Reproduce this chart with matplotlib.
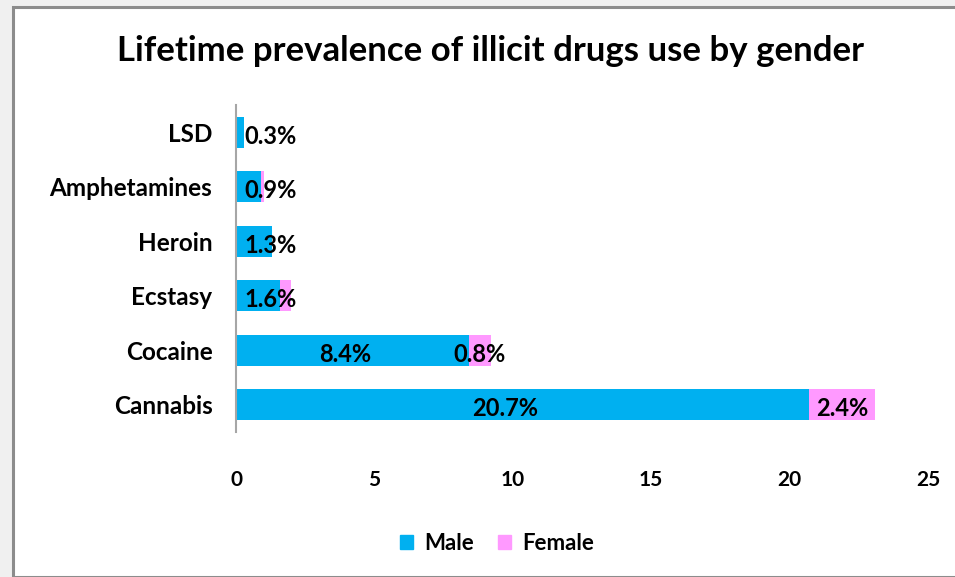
import matplotlib.pyplot as plt
from matplotlib.patches import Rectangle, Patch

drugs = ['LSD', 'Amphetamines', 'Heroin', 'Ecstasy', 'Cocaine', 'Cannabis']
male = [0.3, 0.9, 1.3, 1.6, 8.4, 20.7]
female = [0.0, 0.1, 0.0, 0.4, 0.8, 2.4]
male_labels = ['0.3%', '0.9%', '1.3%', '1.6%', '8.4%', '20.7%']
female_labels = ['', '', '', '', '0.8%', '2.4%']
xticks = [0, 5, 10, 15, 20, 25]

blue = '#00B0F0'
pink = '#FF99FF'
font = 'Lato'

fig = plt.figure(figsize=(9.55, 5.77), dpi=100)
fig.patch.set_facecolor('#F0F0F0')
fig.patches.append(Rectangle((12.5 / 955, 0), 1, 1 - 6.5 / 577, transform=fig.transFigure,
                             facecolor='white', edgecolor='#8C8C8C', linewidth=2.2, zorder=-10))

ax = fig.add_axes([236 / 955, 1 - 432 / 577, 692 / 955, 327 / 577])
ax.set_facecolor('none')

y = range(len(drugs))
ax.barh(y, male, height=0.57, color=blue, label='Male')
ax.barh(y, female, left=male, height=0.57, color=pink, label='Female')

# labels on big segments sit a bit left of centre in the original
for i in y:
    ax.text(max(male[i] / 2 - 0.03 * male[i], 1.25), i + 0.07, male_labels[i], ha='center',
            va='center', fontsize=17, fontweight='bold', family=font, color='black')
    if female_labels[i]:
        ax.text(male[i] + female[i] / 2, i + 0.07, female_labels[i], ha='center', va='center',
                fontsize=17, fontweight='bold', family=font, color='black')

ax.set_xlim(0, 25)
ax.set_ylim(len(drugs) - 0.5, -0.5)
ax.set_xticks(xticks)
ax.set_xticklabels([str(t) for t in xticks], fontsize=15, fontweight='bold', family=font)
ax.set_yticks(list(y))
ax.set_yticklabels(drugs, fontsize=17.5, fontweight='bold', family=font)
ax.tick_params(axis='x', length=0, pad=27)
ax.tick_params(axis='y', length=0, pad=17)
for s in ['top', 'right', 'bottom']:
    ax.spines[s].set_visible(False)
ax.spines['left'].set_color('#A6A6A6')
ax.spines['left'].set_linewidth(1.5)

fig.text(490 / 955, 1 - 51 / 577, 'Lifetime prevalence of illicit drugs use by gender',
         ha='center', va='center', fontsize=25, fontweight='bold', family=font)

handles = [Patch(color=blue, label='Male'), Patch(color=pink, label='Female')]
fig.legend(handles=handles, loc='center', bbox_to_anchor=(497 / 955, 1 - 543 / 577), ncol=2,
           frameon=False, handlelength=0.6, handleheight=0.6, handletextpad=0.5, columnspacing=1.1,
           prop={'family': font, 'weight': 'bold', 'size': 16})

fig.savefig('out.png', dpi=100)
